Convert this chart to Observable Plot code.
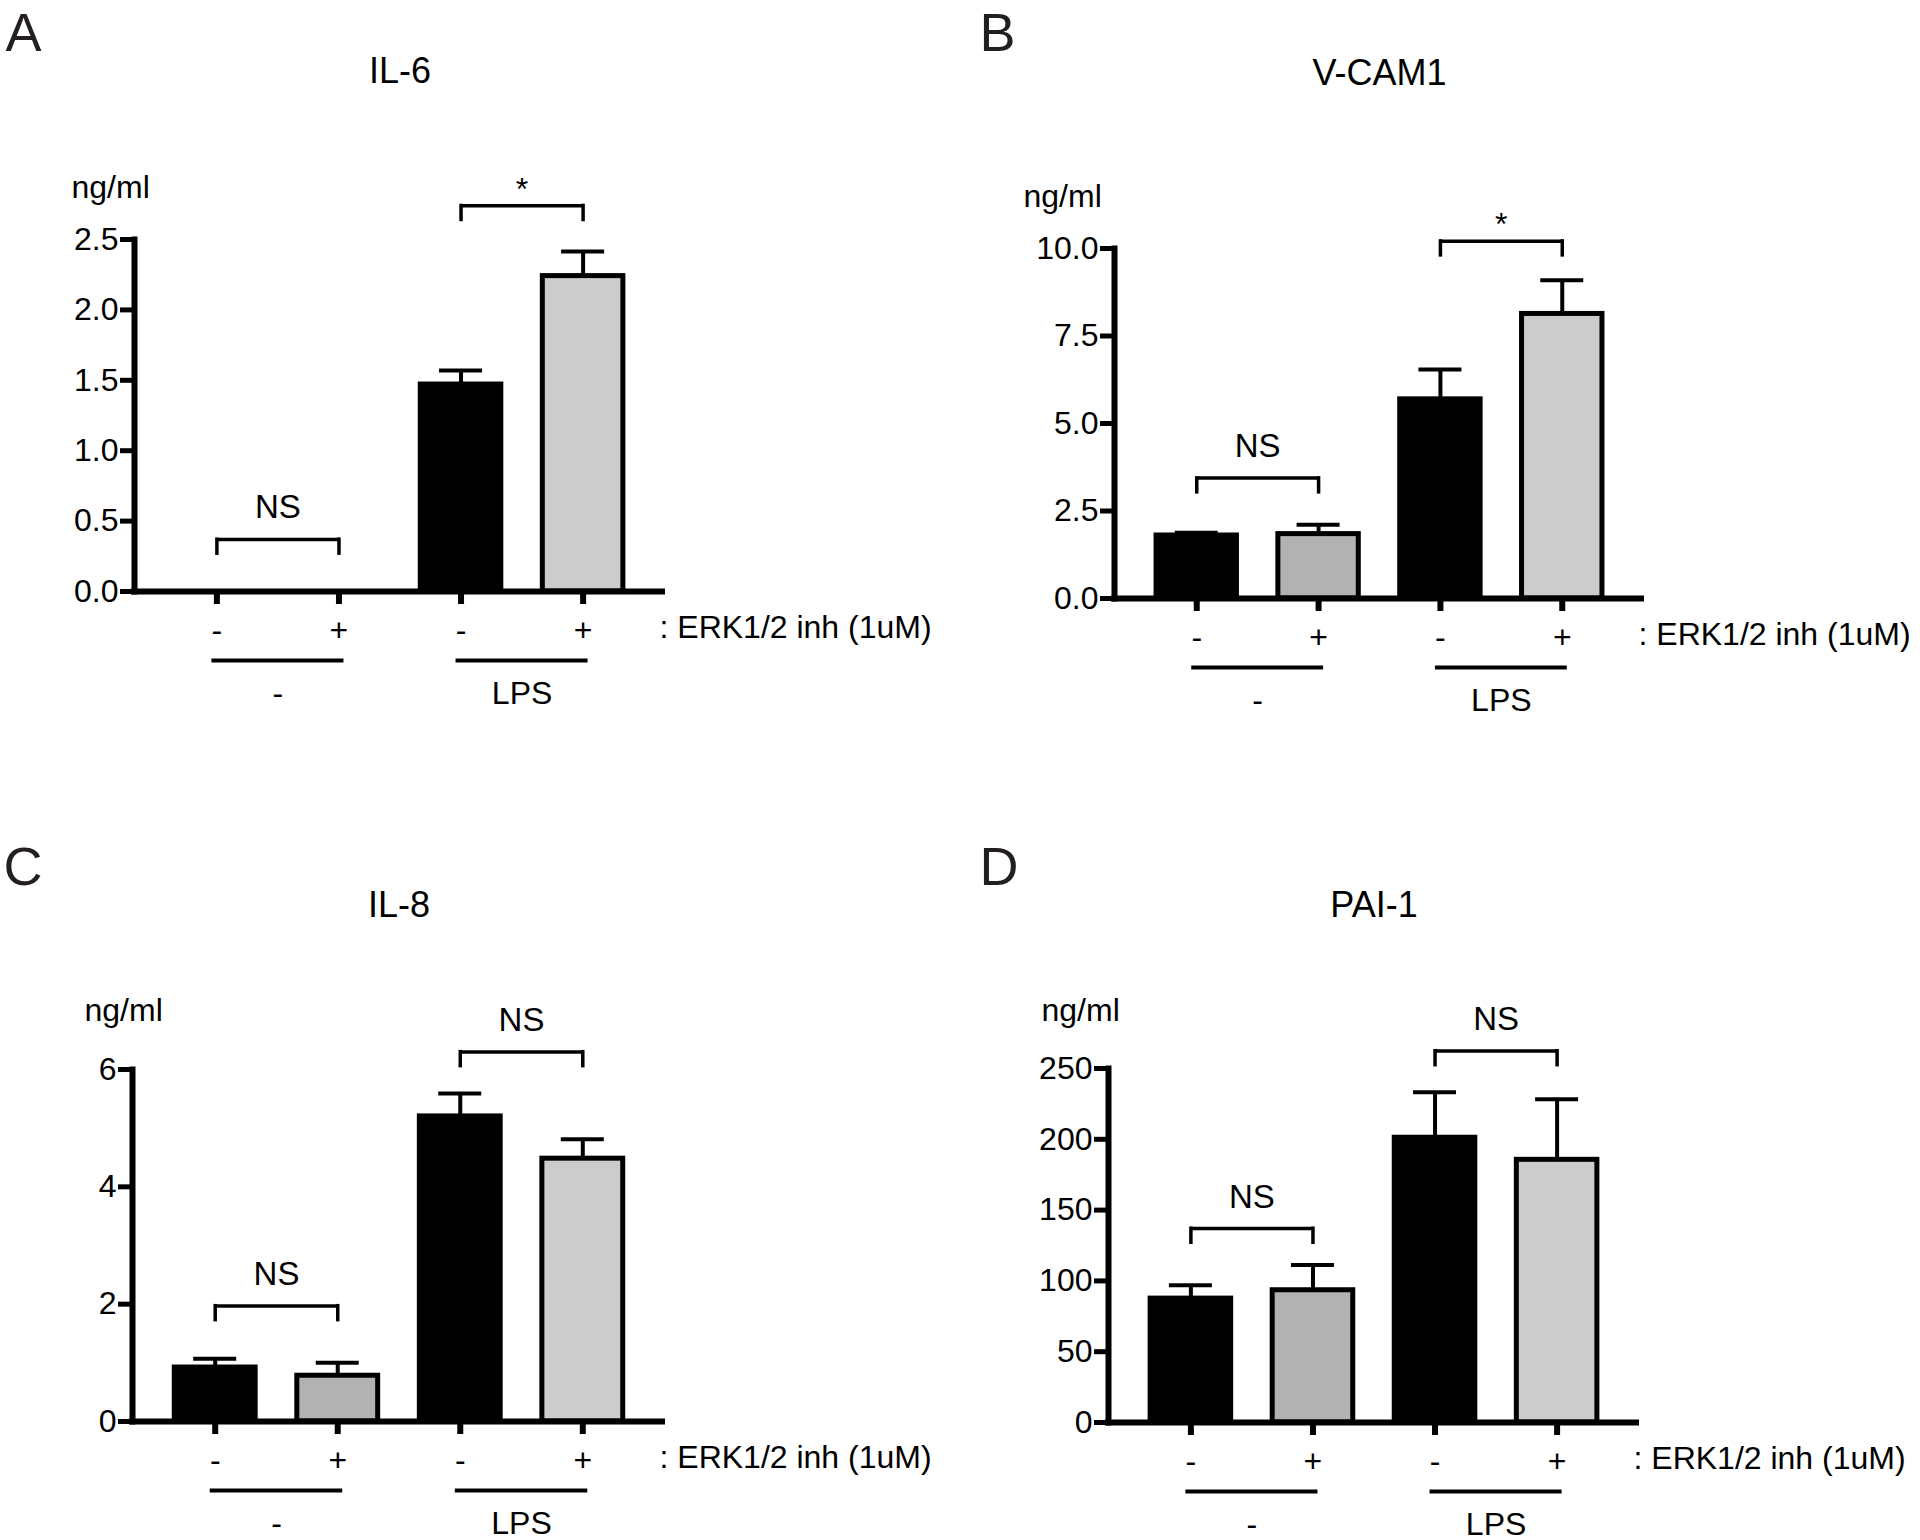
<!DOCTYPE html>
<html>
<head>
<meta charset="utf-8">
<script src="https://cdn.jsdelivr.net/npm/d3@7"></script>
<script src="https://cdn.jsdelivr.net/npm/@observablehq/plot@0.6"></script>
<style>
  html, body { margin: 0; padding: 0; background: #fff; }
  #root { position: relative; width: 1920px; height: 1540px; overflow: hidden; background: #fff; }
  #root svg { position: absolute; overflow: visible; }
</style>
</head>
<body>
<div id="root"></div>
<script>
// ---------- data ----------
const conditions = ["ctrl", "inh", "lps", "lpsInh"];
const inhibitorTicks = ["-", "+", "-", "+"];
const groupLabels = ["-", "LPS"];
const groupFirst = ["ctrl", "lps"];
const groupSecond = ["inh", "lpsInh"];
const inhibitorLabel = ": ERK1/2 inh (1uM)";
const yUnit = "ng/ml";

const panelLetters = ["A", "B", "C", "D"];
const panelTitles = ["IL-6", "V-CAM1", "IL-8", "PAI-1"];

const il6Mean = [0, 0, 1.47, 2.24];
const il6Err = [0, 0, 0.10, 0.175];
const vcam1Mean = [1.80, 1.84, 5.69, 8.13];
const vcam1Err = [0.08, 0.27, 0.85, 0.96];
const il8Mean = [0.92, 0.78, 5.20, 4.48];
const il8Err = [0.15, 0.22, 0.39, 0.33];
const pai1Mean = [87.5, 93.4, 201.1, 185.5];
const pai1Err = [9.4, 17.8, 32.1, 42.8];

const il6Ticks = [0, 0.5, 1, 1.5, 2, 2.5];
const vcam1Ticks = [0, 2.5, 5, 7.5, 10];
const il8Ticks = [0, 2, 4, 6];
const pai1Ticks = [0, 50, 100, 150, 200, 250];

// significance brackets (between ctrl/inh and lps/lpsInh)
const bracketFrom = ["ctrl", "lps"];
const bracketTo = ["inh", "lpsInh"];
const il6BracketY = [0.37, 2.74];
const il6Sig = ["NS", "*"];
const vcam1BracketY = [3.44, 10.21];
const vcam1Sig = ["NS", "*"];
const il8BracketY = [1.97, 6.30];
const il8Sig = ["NS", "NS"];
const pai1BracketY = [137, 262.4];
const pai1Sig = ["NS", "NS"];

// ---------- styles / layout ----------
const conditionFills = ["#000000", "#b2b2b2", "#000000", "#cccccc"];
const FONT = "'Liberation Sans', Arial, Helvetica, sans-serif";
const PAD_INNER = 0.34, PAD_OUTER = 0.345;
const W = 960, H = 770;
const layouts = [
  {left: 0,   top: 0,   ml: 134, fr: 665, mt: 239, fb: 591, titleDy: -157, unitDx: -63, unitDy: -42, letterDx: -129, letterDy: -189},
  {left: 960, top: 0,   ml: 154, fr: 684, mt: 248, fb: 598, titleDy: -164, unitDx: -91, unitDy: -42, letterDx: -135, letterDy: -198},
  {left: 0,   top: 770, ml: 132, fr: 665, mt: 299, fb: 651, titleDy: -153, unitDx: -48, unitDy: -49, letterDx: -129, letterDy: -185},
  {left: 960, top: 770, ml: 148, fr: 679, mt: 298, fb: 652, titleDy: -152, unitDx: -67, unitDy: -48, letterDx: -129, letterDy: -184}
];

function drawPanel(i, mean, err, ticks, fmt, yMax, bracketY, sig) {
  const L = layouts[i];
  const data = conditions.map((c, k) => ({cond: c, mean: mean[k], top: mean[k] + err[k], fill: conditionFills[k]}));
  const errData = data.filter(d => d.top > d.mean);
  const brackets = bracketY.map((y, k) => ({from: bracketFrom[k], to: bracketTo[k], y, label: sig[k]}));
  const legs = brackets.flatMap(b => [{cond: b.from, y: b.y}, {cond: b.to, y: b.y}]);
  const groups = groupLabels.map((g, k) => ({first: groupFirst[k], second: groupSecond[k], label: g}));

  const base = {
    width: W, height: H,
    marginLeft: L.ml, marginRight: W - L.fr, marginTop: L.mt, marginBottom: H - L.fb,
    x: {domain: conditions, paddingInner: PAD_INNER, paddingOuter: PAD_OUTER, round: false, axis: null},
    y: {domain: [0, yMax], axis: null},
    color: {type: "identity"},
    style: {background: "transparent", color: "#000", fontFamily: FONT, fontSize: "32px", overflow: "visible"}
  };
  const probe = Plot.plot({...base, marks: [Plot.barY(data, {x: "cond", y: "mean"})]});
  const xs = probe.scale("x");
  const bw = xs.bandwidth;
  const step = xs.step ?? bw / (1 - PAD_INNER);
  const half = step / 2;

  const marks = [
    Plot.barY(data, {x: "cond", y: "mean", fill: "fill", stroke: "#000", strokeWidth: 5}),
    Plot.ruleX(errData, {x: "cond", y1: "mean", y2: "top", stroke: "#000", strokeWidth: 4}),
    Plot.tickY(errData, {x: "cond", y: "top", inset: (bw - 43) / 2, stroke: "#000", strokeWidth: 4}),
    Plot.ruleY([0], {stroke: "#000", strokeWidth: 6, insetLeft: -3}),
    Plot.frame({anchor: "left", stroke: "#000", strokeWidth: 6}),
    Plot.axisY(ticks, {anchor: "left", tickSize: 14, tickPadding: 2, strokeWidth: 5, fontSize: 32, tickFormat: fmt, label: null}),
    Plot.axisX({anchor: "bottom", tickSize: 13, tickPadding: 14, strokeWidth: 6, fontSize: 32,
      tickFormat: d => inhibitorTicks[conditions.indexOf(d)], label: null}),
    // significance brackets
    Plot.link(brackets, {x1: "from", x2: "to", y1: "y", y2: "y", stroke: "#000", strokeWidth: 3.5}),
    Plot.ruleX(legs, {x: "cond", y1: "y", y2: "y", insetTop: -1.5, insetBottom: -16, stroke: "#000", strokeWidth: 3.5}),
    Plot.text(brackets.filter(b => b.label === "NS"), {x: "from", y: "y", text: "label", dx: half, dy: -21, lineAnchor: "bottom", fontSize: 33}),
    Plot.text(brackets.filter(b => b.label === "*"), {x: "from", y: "y", text: "label", dx: half, dy: -6, lineAnchor: "bottom", fontSize: 32}),
    // treatment groups under the axis
    Plot.ruleY(groups, {x1: "first", x2: "second", y: () => 0, dy: 69, insetLeft: bw / 2 - 5, insetRight: bw / 2 - 5, stroke: "#000", strokeWidth: 4}),
    Plot.text(groups, {x: "first", y: () => 0, text: "label", dx: half, dy: 112, lineAnchor: "bottom", fontSize: 32}),
    Plot.text([inhibitorLabel], {frameAnchor: "bottom-right", text: d => d, textAnchor: "start", lineAnchor: "bottom", dx: -6, dy: 46, fontSize: 32}),
    // title, unit, panel letter
    Plot.text([panelTitles[i]], {frameAnchor: "top", text: d => d, lineAnchor: "bottom", dy: L.titleDy, fontSize: 36}),
    Plot.text([yUnit], {frameAnchor: "top-left", text: d => d, textAnchor: "start", lineAnchor: "bottom", dx: L.unitDx, dy: L.unitDy, fontSize: 32}),
    Plot.text([panelLetters[i]], {frameAnchor: "top-left", text: d => d, textAnchor: "start", lineAnchor: "bottom", dx: L.letterDx, dy: L.letterDy, fontSize: 54, fill: "#231f20"})
  ];

  const svg = Plot.plot({...base, marks});
  svg.style.left = L.left + "px";
  svg.style.top = L.top + "px";
  document.getElementById("root").appendChild(svg);
}

const f1 = d3.format(".1f");
const f0 = d3.format("d");
drawPanel(0, il6Mean, il6Err, il6Ticks, f1, 2.5, il6BracketY, il6Sig);
drawPanel(1, vcam1Mean, vcam1Err, vcam1Ticks, f1, 10, vcam1BracketY, vcam1Sig);
drawPanel(2, il8Mean, il8Err, il8Ticks, f0, 6, il8BracketY, il8Sig);
drawPanel(3, pai1Mean, pai1Err, pai1Ticks, f0, 250, pai1BracketY, pai1Sig);
</script>
</body>
</html>
